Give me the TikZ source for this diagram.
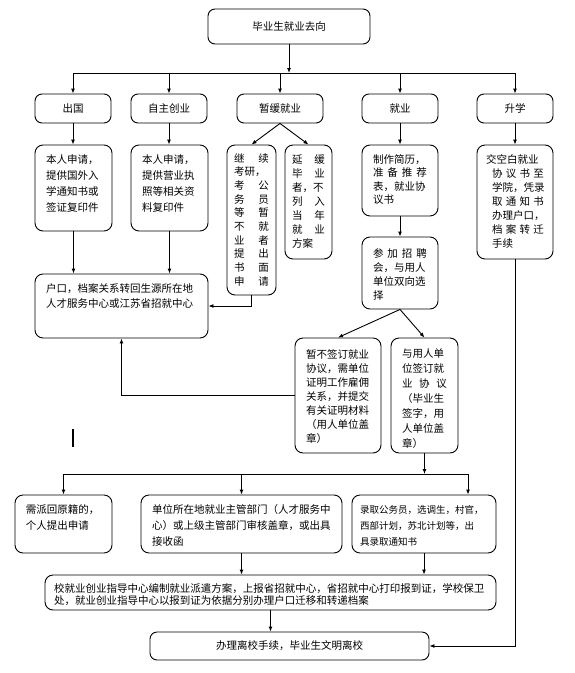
\documentclass[tikz,border=0pt]{standalone}
\usepackage{fontspec}
\newfontfamily\cjk{Noto Sans CJK SC}
\usetikzlibrary{arrows.meta}

\begin{document}
\begin{tikzpicture}[x=1pt, y=-1pt, line width=0.9pt, >={Latex[length=5pt,width=4pt]},
  tag/.style={draw, rectangle, rounded corners=7pt, inner sep=0pt, font=\cjk\fontsize{10.5}{13}\selectfont},
  card/.style={draw, rectangle, rounded corners=8pt, align=left, inner xsep=11pt, inner ysep=9pt, text height=9pt, font=\cjk\fontsize{10.5}{16}\selectfont}]
\useasboundingbox (0, 0) rectangle (574, 673);
\node[tag, minimum width=162pt, minimum height=35pt] (top) at (289, 26.5) {毕业生就业去向};
\node[tag, minimum width=76pt, minimum height=29pt] (chuguo) at (73, 108.5) {出国};
\node[tag, minimum width=76pt, minimum height=29pt] (zizhu) at (169, 108.5) {自主创业};
\node[tag, minimum width=86pt, minimum height=29pt] (zanhuan) at (280, 108.5) {暂缓就业};
\node[tag, minimum width=76pt, minimum height=29pt] (jiuye) at (400, 108.5) {就业};
\node[tag, minimum width=76pt, minimum height=29pt] (shengxue) at (515, 108.5) {升学};
\node[card, text width=55pt, text depth=59pt] (guowai) at (73.5, 188) {本人申请，\\提供国外入\\学通知书或\\签证复印件};
\node[card, text width=55pt, text depth=59pt] (yingye) at (169.5, 188) {本人申请，\\提供营业执\\照等相关资\\料复印件};
\node[card, inner xsep=7pt, inner ysep=8pt, text width=35pt, text depth=125pt, font=\cjk\fontsize{10.5}{13.7}\selectfont] (kaoyan) at (251.5, 220) {继\hfill 续\\考研，\\考\hfill 公\\务\hfill 员\\等\hfill 暂\\不\hfill 就\\业\hfill 者\\提\hfill 出\\书\hfill 面\\申\hfill 请};
\node[card, inner xsep=7pt, text width=33pt, text depth=87pt, font=\cjk\fontsize{10.5}{14}\selectfont] (yanhuan) at (308.5, 202) {延\hfill 缓\\毕\hfill 业\\者，不\\列\hfill 入\\当\hfill 年\\就\hfill 业\\方案};
\node[card, text width=54pt, text depth=44pt, font=\cjk\fontsize{10.5}{13.5}\selectfont] (jianli) at (400, 180.5) {制作简历，\\准\hfill 备\hfill 推\hfill 荐\\表，就业协\\议书};
\node[card, inner xsep=9pt, text width=58pt, text depth=87pt, font=\cjk\fontsize{10.5}{14}\selectfont] (xuexiao) at (515, 202) {交空白就业\\\hspace*{6pt}协\hfill 议\hfill 书\hfill 至\\\hspace*{6pt}学院，凭录\\\hspace*{6pt}取\hfill 通\hfill 知\hfill 书\\\hspace*{6pt}办理户口，\\\hspace*{6pt}档\hfill 案\hfill 转\hfill 迁\\\hspace*{6pt}手续};
\node[card, text width=151pt, text depth=37pt, font=\cjk\fontsize{10.5}{15}\selectfont] (hukou) at (121.5, 306) {户口，档案关系转回生源所在地\\人才服务中心或江苏省招就中心};
\node[card, inner ysep=11pt, text width=54pt, text depth=41pt, font=\cjk\fontsize{10.5}{14}\selectfont] (zhaopin) at (400, 273) {参\hfill 加\hfill 招\hfill 聘\\会，与用人\\单位双向选\\择};
\node[card, inner ysep=11pt, text width=64pt, text depth=84pt, font=\cjk\fontsize{10.5}{14}\selectfont] (zanbu) at (338, 395.5) {暂不签订就业\\协议，需单位\\证明工作雇佣\\关系，并提交\\有关证明材料\\（用人单位盖\\章）};
\node[card, inner ysep=10pt, text width=45pt, text depth=86pt, font=\cjk\fontsize{10.5}{15}\selectfont] (qianding) at (424.5, 395.5) {与用人单\\位签订就\\业\hfill 协\hfill 议\\（毕业生\\签字，用\\人单位盖\\章）};
\node[card, text width=75pt, text depth=31pt] (xupai) at (63.5, 524) {需派回原籍的，\\个人提出申请};
\node[card, text width=179pt, text depth=31pt] (danwei) at (241.5, 524) {单位所在地就业主管部门（人才服务中\\心）或上级主管部门审核盖章，或出具\\接收函};
\node[card, inner xsep=8pt, text width=128pt, text depth=31pt, font=\cjk\fontsize{9.5}{16}\selectfont] (luqu) at (424, 524) {录取公务员，选调生，村官，\\西部计划，苏北计划等，出\\具录取通知书};
\node[card, inner xsep=9pt, inner ysep=8pt, text width=433pt, text depth=10pt, font=\cjk\fontsize{10.5}{12.5}\selectfont] (xiao) at (270.5, 592.5) {校就业创业指导中心编制就业派遣方案，上报省招就中心，省招就中心打印报到证，学校保卫\\处，就业创业指导中心以报到证为依据分别办理户口迁移和转递档案};
\node[tag, minimum width=279pt, minimum height=28pt] (final) at (289.5, 646) {办理离校手续，毕业生文明离校};
\coordinate (bus) at (289, 73);
\coordinate (bus2) at (420, 474);
\coordinate (b3) at (468, 474);
\draw[->] (top.south) -- (top.south |- bus);
\draw (chuguo.north |- bus) -- (shengxue.north |- bus);
\draw[->] (chuguo.north |- bus) -- (chuguo.north);
\draw[->] (zizhu.north |- bus) -- (zizhu.north);
\draw[->] (zanhuan.north |- bus) -- (zanhuan.north);
\draw[->] (jiuye.north |- bus) -- (jiuye.north);
\draw[->] (shengxue.north |- bus) -- (shengxue.north);
\draw[->] (chuguo.south) -- (chuguo.south |- guowai.north);
\draw[->] (zizhu.south) -- (zizhu.south |- yingye.north);
\draw[->] (zanhuan.south) -- (kaoyan.north);
\draw[->] (zanhuan.south) -- (yanhuan.north);
\draw[->] (jiuye.south) -- (jianli.north);
\draw[->] (shengxue.south) -- (xuexiao.north);
\draw[->] (guowai.south) -- (guowai.south |- hukou.north);
\draw[->] (yingye.south) -- (yingye.south |- hukou.north);
\draw[->] (kaoyan.south) |- (hukou.east);
\draw[->] (jianli.south) -- (zhaopin.north);
\draw[->] (zhaopin.south) -- (zanbu.north);
\draw[->] (zhaopin.south) -- (qianding.north);
\draw[->] (zanbu.west) -| (hukou.south);
\draw[->] (qianding.south) -- (qianding.south |- bus2);
\draw (xupai.north |- bus2) -- (b3);
\draw[->] (xupai.north |- bus2) -- (xupai.north);
\draw[->] (danwei.north |- bus2) -- (danwei.north);
\draw[->] (b3) -- (b3 |- luqu.north);
\draw[->] (danwei.south) -- (danwei.south |- xiao.north);
\draw[->] (luqu.south) -- (luqu.south |- xiao.north);
\draw[->] (xiao.south) -- (xiao.south |- final.north);
\draw[->] (xuexiao.south) |- (final.east);
\draw[line width=1.4pt] (73, 429) -- (73, 447);
\end{tikzpicture}
\end{document}
